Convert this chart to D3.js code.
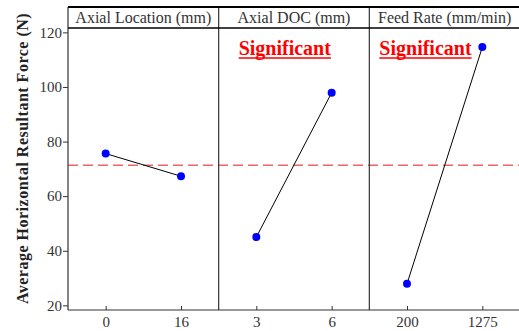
<!DOCTYPE html>
<html>
<head>
<meta charset="utf-8">
<script src="https://cdn.jsdelivr.net/npm/d3@7"></script>
<style>
  body { margin: 0; background: #fff; }
  svg text { font-family: "Liberation Serif", "Times New Roman", Times, serif; }
</style>
</head>
<body>
<div class="chart"></div>
<script>
// main effects plot data
const factors = ["Axial Location (mm)", "Axial DOC (mm)", "Feed Rate (mm/min)"];
const levels = [["0", "16"], ["3", "6"], ["200", "1275"]];
const means = [[75.6, 67.3], [45.0, 97.9], [27.9, 114.6]];
const significant = [false, true, true];
const grandMean = 71.3;
const yTicks = [20, 40, 60, 80, 100, 120];
const yTitle = "Average Horizontal Resultant Force (N)";

const W = 519, H = 331;
const plotLeft = 68, plotRight = 520, plotTop = 7, headBottom = 28, plotBottom = 310;
const serif = "'Liberation Serif', 'Times New Roman', serif";

const svg = d3.select(".chart").append("svg")
  .attr("width", W)
  .attr("height", H);

// panel scale + y scale
const panel = d3.scaleBand().domain(factors).range([plotLeft, plotRight]);
const y = d3.scaleLinear().domain([18.3, 121.6]).range([plotBottom, headBottom]);

// y axis
const yAxis = svg.append("g")
  .attr("transform", "translate(" + plotLeft + ",0)")
  .call(d3.axisLeft(y).tickValues(yTicks).tickSize(5).tickPadding(1))
  .attr("font-family", serif);
yAxis.select(".domain").remove();
yAxis.selectAll("line").attr("stroke", "#333");
yAxis.selectAll("text")
  .attr("fill", "#333")
  .style("font-size", "15px");

// y title
svg.append("text")
  .attr("transform", "rotate(-90)")
  .attr("x", -(12 + 305) / 2)
  .attr("y", 28)
  .attr("text-anchor", "middle")
  .style("font-size", "16px")
  .style("font-weight", "bold")
  .style("letter-spacing", "0.5px")
  .attr("fill", "#222")
  .text(yTitle);

// grand mean dashed line
svg.append("line")
  .attr("x1", plotLeft).attr("x2", plotRight)
  .attr("y1", y(grandMean)).attr("y2", y(grandMean))
  .attr("stroke", "#f26464")
  .attr("stroke-width", 1.5)
  .attr("stroke-dasharray", "10,5");

const sigOffset = [0, 20, 10];

factors.forEach(function (f, i) {
  const x0 = panel(f), x1 = x0 + panel.bandwidth();
  const x = d3.scalePoint().domain(levels[i]).range([x0, x1]).padding(0.5);
  const g = svg.append("g");

  // header text
  g.append("text")
    .attr("x", (x0 + x1) / 2)
    .attr("y", 23)
    .attr("text-anchor", "middle")
    .style("font-size", "16px")
    .attr("fill", "#333")
    .text(f);

  // x axis ticks (inside) and labels
  const xa = g.append("g")
    .attr("transform", "translate(0," + plotBottom + ")")
    .call(d3.axisBottom(x).tickSize(-4).tickPadding(6))
    .attr("font-family", serif);
  xa.select(".domain").remove();
  xa.selectAll("line").attr("stroke", "#333");
  xa.selectAll("text")
    .attr("fill", "#333")
    .style("font-size", "15px");

  const pts = levels[i].map(function (l, j) { return { lvl: l, v: means[i][j] }; });

  g.append("path")
    .datum(pts)
    .attr("fill", "none")
    .attr("stroke", "#000")
    .attr("stroke-width", 1)
    .attr("d", d3.line().x(function (d) { return x(d.lvl); }).y(function (d) { return y(d.v); }));

  g.selectAll("circle")
    .data(pts)
    .enter()
    .append("circle")
    .attr("cx", function (d) { return x(d.lvl); })
    .attr("cy", function (d) { return y(d.v); })
    .attr("r", 4)
    .attr("fill", "#0000ff");

  if (significant[i]) {
    const t = g.append("text")
      .attr("x", x0 + sigOffset[i])
      .attr("y", 55)
      .style("font-size", "20px")
      .style("font-weight", "bold")
      .attr("fill", "#ff0000")
      .text("Significant");
    const len = t.node().getComputedTextLength();
    g.append("line")
      .attr("x1", x0 + sigOffset[i]).attr("x2", x0 + sigOffset[i] + len)
      .attr("y1", 58).attr("y2", 58)
      .attr("stroke", "#ff0000")
      .attr("stroke-width", 1.5);
  }

  // divider between panels
  if (i > 0) {
    svg.append("line")
      .attr("x1", x0).attr("x2", x0)
      .attr("y1", plotTop).attr("y2", plotBottom)
      .attr("stroke", "#333")
      .attr("stroke-width", 1.2);
  }
});

// frame: left and bottom lines, header box
svg.append("line")
  .attr("x1", plotLeft).attr("x2", plotLeft).attr("y1", plotTop).attr("y2", plotBottom)
  .attr("stroke", "#333").attr("stroke-width", 1.2);
svg.append("line")
  .attr("x1", plotLeft).attr("x2", plotRight).attr("y1", plotBottom).attr("y2", plotBottom)
  .attr("stroke", "#333").attr("stroke-width", 1.2);
svg.append("line")
  .attr("x1", plotLeft).attr("x2", plotRight).attr("y1", plotTop).attr("y2", plotTop)
  .attr("stroke", "#000").attr("stroke-width", 2);
svg.append("line")
  .attr("x1", plotLeft).attr("x2", plotRight).attr("y1", headBottom).attr("y2", headBottom)
  .attr("stroke", "#000").attr("stroke-width", 1.5);
</script>
</body>
</html>
